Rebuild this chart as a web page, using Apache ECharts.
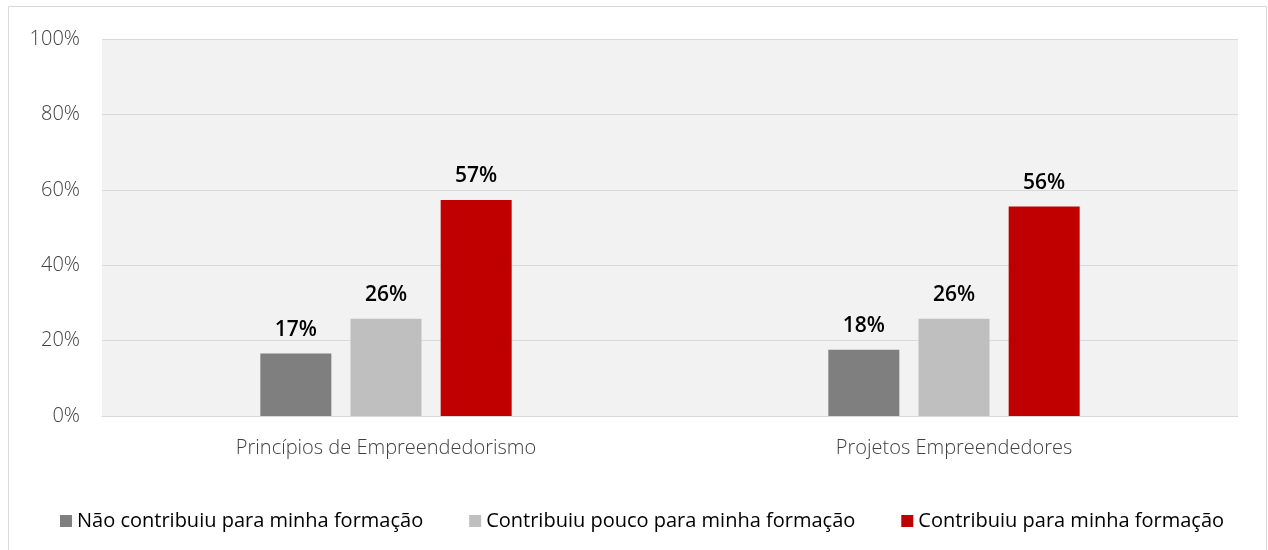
<!DOCTYPE html>
<html>
<head>
<meta charset="utf-8">
<script src="https://cdn.jsdelivr.net/npm/echarts@6/dist/echarts.min.js"></script>
<style>
html,body{margin:0;padding:0;background:#fff;}
#chart{width:1268px;height:550px;}
</style>
</head>
<body>
<div id="chart"></div>
<script>
const categories = ['Princípios de Empreendedorismo', 'Projetos Empreendedores'];
const seriesNames = ['Não contribuiu para minha formação', 'Contribuiu pouco para minha formação', 'Contribuiu para minha formação'];
const naoContribuiu = [16.6, 17.6];
const contribuiuPouco = [25.8, 25.8];
const contribuiu = [57.3, 55.6];
const colors = ['#7f7f7f', '#bfbfbf', '#c00000'];
const FONT = '"Open Sans", sans-serif';

const chart = echarts.init(document.getElementById('chart'));
const dataSets = [naoContribuiu, contribuiuPouco, contribuiu];
chart.setOption({
  animation: false,
  textStyle: { fontFamily: FONT },
  graphic: [{
    type: 'rect',
    shape: { x: 8.5, y: 6.5, width: 1258, height: 560 },
    style: { fill: 'none', stroke: '#d9d9d9', lineWidth: 1 },
    silent: true
  }],
  grid: {
    left: 102, right: 30, top: 39, bottom: 134,
    show: true, backgroundColor: '#f2f2f2', borderWidth: 0
  },
  legend: {
    left: 55, top: 506,
    itemWidth: 12, itemHeight: 12, itemGap: 46,
    icon: 'rect',
    textStyle: { fontFamily: FONT, fontSize: 20, color: '#000' },
    data: seriesNames
  },
  xAxis: {
    type: 'category',
    data: categories,
    axisLine: { lineStyle: { color: '#d9d9d9' } },
    axisTick: { show: false },
    axisLabel: { fontFamily: FONT, fontSize: 20, color: '#404040', margin: 22, fontWeight: 300 }
  },
  yAxis: {
    type: 'value',
    min: 0, max: 100, interval: 20,
    axisLine: { show: false },
    axisTick: { show: false },
    splitLine: { lineStyle: { color: '#d9d9d9' } },
    axisLabel: { formatter: '{value}%', fontFamily: FONT, fontSize: 20, color: '#404040', margin: 22, fontWeight: 300 }
  },
  series: seriesNames.map((name, i) => ({
    name,
    type: 'bar',
    data: dataSets[i],
    barWidth: 71,
    barGap: '27%',
    itemStyle: { color: colors[i] },
    label: {
      show: true, position: 'top', distance: 13,
      formatter: p => Math.round(p.value) + '%',
      fontFamily: FONT, fontSize: 21, color: '#000', fontWeight: 600
    }
  }))
});
</script>
</body>
</html>
